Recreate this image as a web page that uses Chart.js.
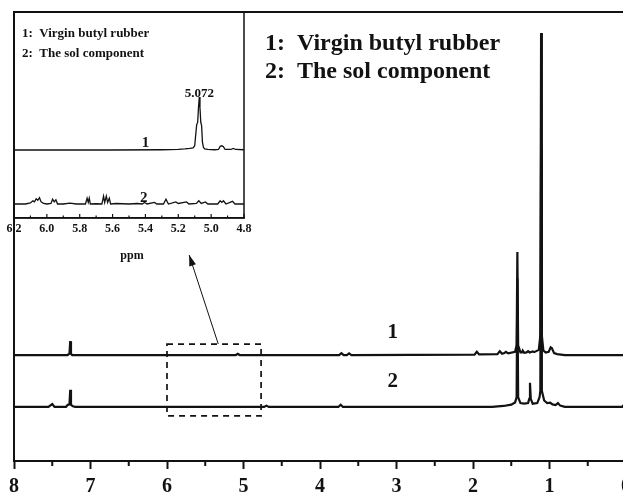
<!DOCTYPE html>
<html>
<head>
<meta charset="utf-8">
<script src="https://cdn.jsdelivr.net/npm/chart.js@4.4.1/dist/chart.umd.min.js"></script>
<style>
  html, body { margin: 0; padding: 0; background: #fff; overflow: hidden; }
  #wrap { position: relative; width: 623px; height: 495px; overflow: hidden; background: #fff; }
  #main, #inset { position: absolute; left: 0; top: 0; }
</style>
</head>
<body>
<div id="wrap">
  <canvas id="main" width="660" height="495"></canvas>
  <canvas id="inset" width="260" height="270"></canvas>
</div>
<script>
// Spectre 1H RMN complet (ppm) - 1 : caoutchouc butyl vierge
const shifts1 = [8.0, 7.30, 7.275, 7.265, 7.255, 7.24, 5.10, 5.075, 5.05, 3.75, 3.72, 3.69, 3.65, 3.62, 3.59,
  1.98, 1.95, 1.92, 1.68, 1.65, 1.62, 1.59, 1.57, 1.54, 1.45, 1.43, 1.42, 1.41, 1.38, 1.36, 1.35, 1.33,
  1.30, 1.28, 1.26, 1.23, 1.22, 1.20, 1.14, 1.12, 1.11, 1.10, 1.08, 1.05, 1.01, 0.985, 0.97, 0.94, 0.90, 0.80, 0.0];
const intens1 = [0, 0, 0.4, 4.3, 0.4, 0, 0, 0.4, 0, 0, 0.6, 0, 0, 0.5, 0,
  0.1, 1.0, 0.2, 0.3, 1.2, 0.4, 0.6, 1.0, 0.5, 1.0, 3, 32, 3, 0.8, 0.8, 1.4, 0.7,
  0.8, 1.2, 0.8, 1.0, 1.1, 0.9, 1.6, 6, 100, 6, 1.4, 0.8, 1.0, 2.4, 2.2, 0.6, 0.3, 0, 0];

// 2 : fraction sol
const shifts2 = [8.0, 7.55, 7.50, 7.47, 7.32, 7.30, 7.275, 7.265, 7.255, 7.23, 7.20, 4.73, 4.70, 4.67,
  3.76, 3.73, 3.70, 1.75, 1.60, 1.50, 1.45, 1.43, 1.42, 1.41, 1.38, 1.33, 1.28, 1.265, 1.255, 1.245, 1.22,
  1.16, 1.13, 1.12, 1.11, 1.10, 1.07, 1.03, 0.99, 0.96, 0.92, 0.89, 0.86, 0.80, 0.05, 0.02, 0.0];
const intens2 = [0, 0, 0.9, 0, 0, 0.6, 0.8, 5.3, 0.6, 0.2, 0, 0, 0.4, 0,
  0, 0.7, 0, 0, 0.3, 0.7, 1.4, 3, 40, 3, 1.2, 1.0, 1.2, 2.5, 7.5, 2.5, 1.0,
  1.2, 3, 5, 80, 5, 2.0, 1.2, 1.3, 0.8, 0.6, 1.2, 0.4, 0, 0, 0.9, 0.3];

// Agrandissement 6.2 - 4.8 ppm
const zoomShifts1 = [6.2, 5.6, 5.3, 5.2, 5.16, 5.13, 5.11, 5.10, 5.095, 5.088, 5.082, 5.077, 5.072, 5.068,
  5.063, 5.058, 5.053, 5.047, 5.04, 5.02, 4.98, 4.955, 4.945, 4.935, 4.925, 4.915, 4.88, 4.865, 4.85, 4.8];
const zoomIntens1 = [0, 0, 0.5, 1, 2, 3, 4, 8, 25, 48, 52, 80, 100, 80,
  52, 46, 15, 5, 2, 1, 0.5, 1, 7, 8, 6, 1, 1, 3, 1, 0.5];

const zoomShifts2 = [6.2, 6.13, 6.10, 6.085, 6.075, 6.065, 6.055, 6.045, 6.035, 6.02, 6.0, 5.975, 5.965, 5.955,
  5.945, 5.935, 5.9, 5.86, 5.82, 5.765, 5.755, 5.748, 5.742, 5.735, 5.7, 5.665, 5.655, 5.648, 5.638, 5.63,
  5.62, 5.612, 5.58, 5.5, 5.45, 5.42, 5.405, 5.39, 5.345, 5.33, 5.29, 5.275, 5.26, 5.215, 5.2, 5.15, 5.135,
  5.09, 5.075, 5.06, 5.035, 5.02, 4.96, 4.945, 4.935, 4.925, 4.91, 4.87, 4.855, 4.8];
const zoomIntens2 = [0, 0, 2, 6, 4, 10, 7, 12, 4, 1, 0, 1, 9, 4,
  8, 0, 0, 1.5, 0, 0, 11, 3, 11, 0, 0.5, 0, 15, 3, 15, 3,
  11, 0, 1, 0, 1, 0, 3, 0, 3, 0, 0, 9, 0, 4, 1, 4, 0,
  1, 6, 1, 4, 0, 0, 6, 3, 6, 0, 5, 0, 0];

// Graduations
const mainTicks = [8, 7, 6, 5, 4, 3, 2, 1, 0];
const mainMinorTicks = [7.5, 6.5, 5.5, 4.5, 3.5, 2.5, 1.5, 0.5];
const zoomTickLabels = ['6.2', '6.0', '5.8', '5.6', '5.4', '5.2', '5.0', '4.8'];
const zoomMinorTicks = [6.1, 5.9, 5.7, 5.5, 5.3, 5.1, 4.9];

const legendLines = ['1:  Virgin butyl rubber', '2:  The sol component'];
const peakLabel = '5.072';

const ink = '#121212';
Chart.defaults.font.family = '"Liberation Serif", "Times New Roman", serif';
Chart.defaults.color = ink;

const toPoints = (xs, ys) => xs.map((x, i) => ({ x, y: ys[i] }));

// Dessins additionnels du spectre principal
const mainDecor = {
  id: 'mainDecor',
  afterDraw(chart) {
    const { ctx, chartArea } = chart;
    const x = chart.scales.x;
    const base1 = chart.scales.y1.getPixelForValue(0);
    const base2 = chart.scales.y2.getPixelForValue(0);
    ctx.save();
    ctx.strokeStyle = ink;
    ctx.fillStyle = ink;

    // petites graduations
    ctx.lineWidth = 2;
    mainMinorTicks.forEach(v => {
      const px = x.getPixelForValue(v);
      ctx.beginPath();
      ctx.moveTo(px, chartArea.bottom);
      ctx.lineTo(px, chartArea.bottom + 5);
      ctx.stroke();
    });

    // numéros des spectres
    ctx.font = 'bold 21px "Liberation Serif"';
    ctx.textAlign = 'center';
    ctx.textBaseline = 'alphabetic';
    ctx.fillText('1', x.getPixelForValue(3.05), base1 - 17);
    ctx.fillText('2', x.getPixelForValue(3.05), base2 - 20);

    // légende
    ctx.font = 'bold 24px "Liberation Serif"';
    ctx.textAlign = 'left';
    ctx.fillText(legendLines[0], chartArea.left + 251, chartArea.top + 38);
    ctx.fillText(legendLines[1], chartArea.left + 251, chartArea.top + 66);

    // cadre pointillé autour de la zone agrandie
    const bl = x.getPixelForValue(6.0);
    const br = x.getPixelForValue(4.77);
    const bt = base1 - 11;
    const bb = base2 + 9;
    ctx.lineWidth = 1.7;
    ctx.setLineDash([6, 5]);
    ctx.strokeRect(bl, bt, br - bl, bb - bt);
    ctx.setLineDash([]);

    // flèche vers l'encart
    const tx = x.getPixelForValue(5.33), ty = bt;
    const hx = x.getPixelForValue(5.71), hy = chartArea.top + 243;
    ctx.lineWidth = 1;
    ctx.beginPath();
    ctx.moveTo(tx, ty);
    ctx.lineTo(hx, hy);
    ctx.stroke();
    const ang = Math.atan2(hy - ty, hx - tx);
    ctx.beginPath();
    ctx.moveTo(hx, hy);
    ctx.lineTo(hx - 11 * Math.cos(ang) + 3.5 * Math.sin(ang), hy - 11 * Math.sin(ang) - 3.5 * Math.cos(ang));
    ctx.lineTo(hx - 11 * Math.cos(ang) - 3.5 * Math.sin(ang), hy - 11 * Math.sin(ang) + 3.5 * Math.cos(ang));
    ctx.closePath();
    ctx.fill();
    ctx.restore();
  }
};

new Chart(document.getElementById('main'), {
  type: 'line',
  data: {
    datasets: [
      { data: toPoints(shifts1, intens1), yAxisID: 'y1' },
      { data: toPoints(shifts2, intens2), yAxisID: 'y2' }
    ]
  },
  options: {
    responsive: false,
    animation: false,
    layout: { padding: { left: 14, top: 12, right: 34, bottom: 0 } },
    elements: {
      line: { borderColor: ink, borderWidth: 2.2, tension: 0 },
      point: { radius: 0 }
    },
    plugins: { legend: { display: false }, tooltip: { enabled: false } },
    scales: {
      x: {
        type: 'linear',
        position: 'bottom',
        min: 0,
        max: 8,
        reverse: true,
        afterBuildTicks: s => { s.ticks = mainTicks.map(v => ({ value: v })); },
        afterFit: s => { s.height = 34; },
        ticks: {
          autoSkip: false,
          maxRotation: 0,
          padding: 6,
          font: { size: 20, weight: 'bold' },
          callback: v => String(v)
        },
        grid: { drawOnChartArea: false, tickLength: 8, tickWidth: 2, tickColor: ink },
        border: { display: true, width: 2, color: ink }
      },
      xTop: {
        type: 'linear',
        position: 'top',
        min: 0,
        max: 8,
        afterFit: s => { s.height = 0; },
        ticks: { display: false },
        grid: { display: false, drawTicks: false },
        border: { display: true, width: 2, color: ink }
      },
      y1: {
        position: 'left',
        min: -32.9,
        max: 106.5,
        afterFit: s => { s.width = 0; },
        ticks: { display: false },
        grid: { display: false, drawTicks: false },
        border: { display: true, width: 2, color: ink }
      },
      y2: { display: false, min: -16.8, max: 122.7 }
    }
  },
  plugins: [mainDecor]
});

// Encart : cadre, graduations internes et textes
const insetDecor = {
  id: 'insetDecor',
  afterDraw(chart) {
    const { ctx, chartArea } = chart;
    const x = chart.scales.x;
    const base1 = chart.scales.yi1.getPixelForValue(0);
    const base2 = chart.scales.yi2.getPixelForValue(0);
    ctx.save();
    ctx.strokeStyle = ink;
    ctx.fillStyle = ink;
    ctx.lineWidth = 1.5;
    ctx.strokeRect(chartArea.left, chartArea.top, chartArea.right - chartArea.left, chartArea.bottom - chartArea.top);

    ctx.lineWidth = 1.2;
    zoomTickLabels.forEach(t => {
      const px = x.getPixelForValue(parseFloat(t));
      ctx.beginPath();
      ctx.moveTo(px, chartArea.bottom);
      ctx.lineTo(px, chartArea.bottom - 4);
      ctx.stroke();
    });
    zoomMinorTicks.forEach(v => {
      const px = x.getPixelForValue(v);
      ctx.beginPath();
      ctx.moveTo(px, chartArea.bottom);
      ctx.lineTo(px, chartArea.bottom - 2.5);
      ctx.stroke();
    });

    ctx.textAlign = 'center';
    ctx.textBaseline = 'alphabetic';
    ctx.font = 'bold 13px "Liberation Serif"';
    ctx.fillText(peakLabel, x.getPixelForValue(parseFloat(peakLabel)), chart.scales.yi1.getPixelForValue(100));
    ctx.font = 'bold 15px "Liberation Serif"';
    ctx.fillText('1', x.getPixelForValue(5.40), base1 - 3);
    ctx.fillText('2', x.getPixelForValue(5.41), base2 - 2);

    ctx.font = 'bold 12px "Liberation Serif"';
    ctx.fillText('ppm', chartArea.left + 118, chartArea.bottom + 41);

    ctx.font = 'bold 13px "Liberation Serif"';
    ctx.textAlign = 'left';
    ctx.fillText(legendLines[0], chartArea.left + 8, chartArea.top + 25);
    ctx.fillText(legendLines[1], chartArea.left + 8, chartArea.top + 45);
    ctx.restore();
  }
};

new Chart(document.getElementById('inset'), {
  type: 'line',
  data: {
    datasets: [
      { data: toPoints(zoomShifts1, zoomIntens1), yAxisID: 'yi1' },
      { data: toPoints(zoomShifts2, zoomIntens2), yAxisID: 'yi2' }
    ]
  },
  options: {
    responsive: false,
    animation: false,
    layout: { padding: { left: 14, top: 12, right: 16, bottom: 0 } },
    elements: {
      line: { borderColor: ink, borderWidth: 1.3, tension: 0 },
      point: { radius: 0 }
    },
    plugins: { legend: { display: false }, tooltip: { enabled: false } },
    scales: {
      x: {
        type: 'linear',
        position: 'bottom',
        min: 4.8,
        max: 6.2,
        reverse: true,
        afterBuildTicks: s => { s.ticks = zoomTickLabels.map(t => ({ value: parseFloat(t) })); },
        afterFit: s => { s.height = 52; },
        ticks: {
          autoSkip: false,
          maxRotation: 0,
          padding: 4,
          font: { size: 12, weight: 'bold' },
          callback: (v, i) => zoomTickLabels[i]
        },
        grid: { display: false, drawTicks: false },
        border: { display: true, width: 1.5, color: ink }
      },
      yi1: { display: false, min: -128.3, max: 260.4 },
      yi2: { display: false, min: -26.4, max: 362.3 }
    }
  },
  plugins: [insetDecor]
});
</script>
</body>
</html>
